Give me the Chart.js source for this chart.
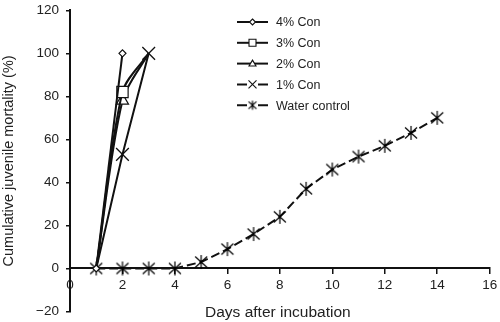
<!DOCTYPE html>
<html>
<head>
<meta charset="utf-8">
<script src="https://cdn.jsdelivr.net/npm/chart.js@4.4.1/dist/chart.umd.min.js"></script>
<style>
  html, body { margin: 0; padding: 0; background: #fff; }
  #wrap { width: 500px; height: 322px; }
</style>
</head>
<body>
<div id="wrap"><canvas id="chart"></canvas></div>
<script>
// data
const conDays = [1, 2, 3];
const con4 = [0, 100];
const con3 = [0, 82, 100];
const con2 = [0, 78, 100];
const con1 = [0, 53, 100];
const waterDays = [1, 2, 3, 4, 5, 6, 7, 8, 9, 10, 11, 12, 13, 14];
const water = [0, 0, 0, 0, 3, 9, 16, 24, 37, 46, 52, 57, 63, 70];
const seriesLabels = ['4% Con', '3% Con', '2% Con', '1% Con', 'Water control'];
const xMin = 0, xMax = 16, xStep = 2;
const yMin = -20, yMax = 120, yStep = 20;
const xTitle = 'Days after incubation';
const yTitle = 'Cumulative juvenile mortality (%)';

const ink = '#111';
const font = 'Arial, "Liberation Sans", sans-serif';

function pts(xs, ys) {
  return ys.map((y, i) => ({ x: xs[i], y: y }));
}

// asterisk marker for the water control series
function asterisk(size, s) {
  const c = document.createElement('canvas');
  c.width = size; c.height = size;
  const g = c.getContext('2d');
  const m = size / 2;
  g.strokeStyle = '#000';
  g.lineWidth = 1.2;
  g.beginPath();
  g.moveTo(m - 6 * s, m - 5.5 * s); g.lineTo(m + 6 * s, m + 5.5 * s);
  g.moveTo(m + 6 * s, m - 5.5 * s); g.lineTo(m - 6 * s, m + 5.5 * s);
  g.moveTo(m, m - 7 * s); g.lineTo(m, m + 7 * s);
  g.stroke();
  return c;
}
const starImg = asterisk(18, 1);
const starSmall = asterisk(12, 0.65);

function drawMarker(ctx, style, r, x, y) {
  if (style instanceof HTMLCanvasElement) {
    ctx.drawImage(style === starImg ? starSmall : style, x - 6, y - 6);
    return;
  }
  ctx.save();
  ctx.strokeStyle = ink;
  ctx.fillStyle = '#fff';
  ctx.lineWidth = 1.1;
  ctx.beginPath();
  if (style === 'rectRot') {
    ctx.moveTo(x, y - r); ctx.lineTo(x + r, y); ctx.lineTo(x, y + r); ctx.lineTo(x - r, y); ctx.closePath();
    ctx.fill(); ctx.stroke();
  } else if (style === 'rect') {
    ctx.rect(x - r, y - r, 2 * r, 2 * r);
    ctx.fill(); ctx.stroke();
  } else if (style === 'triangle') {
    ctx.moveTo(x, y - r); ctx.lineTo(x + r, y + r * 0.7); ctx.lineTo(x - r, y + r * 0.7); ctx.closePath();
    ctx.fill(); ctx.stroke();
  } else if (style === 'crossRot') {
    ctx.moveTo(x - r, y - r); ctx.lineTo(x + r, y + r);
    ctx.moveTo(x + r, y - r); ctx.lineTo(x - r, y + r);
    ctx.stroke();
  }
  ctx.restore();
}

// legend drawn inside the plot, top right
const legendSizes = [3, 3.5, 3.5, 4, 0];
const legendPlugin = {
  id: 'insideLegend',
  afterDraw(chart) {
    const ctx = chart.ctx;
    ctx.save();
    chart.data.datasets.forEach((ds, i) => {
      const y = 22 + i * 20.8;
      const open = ds.pointStyle === 'crossRot' || ds.pointStyle instanceof HTMLCanvasElement;
      ctx.strokeStyle = ink;
      ctx.lineWidth = ds.borderWidth;
      ctx.beginPath();
      if (open) {
        ctx.moveTo(237, y); ctx.lineTo(247, y);
        ctx.moveTo(258, y); ctx.lineTo(268, y);
      } else {
        ctx.moveTo(237, y); ctx.lineTo(268, y);
      }
      ctx.stroke();
      drawMarker(ctx, ds.pointStyle, legendSizes[i], 252.5, y);
      ctx.fillStyle = '#222';
      ctx.font = '12.5px ' + font;
      ctx.textAlign = 'left';
      ctx.textBaseline = 'middle';
      ctx.fillText(ds.label, 276, y + 1);
    });
    // x axis title sits at the bottom of the picture
    ctx.fillStyle = '#222';
    ctx.font = '15.5px ' + font;
    ctx.textAlign = 'center';
    ctx.textBaseline = 'middle';
    const a = chart.chartArea;
    ctx.fillText(xTitle, (a.left + a.right) / 2 - 2, 313);
    ctx.restore();
  }
};

const datasets = [
  {
    label: seriesLabels[0], data: pts(conDays, con4),
    pointStyle: 'rectRot', pointRadius: 3.5, pointBorderWidth: 1.2
  },
  {
    label: seriesLabels[1], data: pts(conDays, con3), tension: 0.3,
    pointStyle: 'rect', pointRadius: [0, 8, 0], pointBorderWidth: 1.2
  },
  {
    label: seriesLabels[2], data: pts(conDays, con2), tension: 0.3,
    pointStyle: 'triangle', pointRadius: [0, 7, 0], pointBorderWidth: 1.2
  },
  {
    label: seriesLabels[3], data: pts(conDays, con1),
    pointStyle: 'crossRot', pointRadius: [0, 9, 9], pointBorderWidth: 1.3
  },
  {
    label: seriesLabels[4], data: pts(waterDays, water),
    pointStyle: starImg, pointRadius: 7, borderDash: [9, 4]
  }
].map(ds => Object.assign({
  borderColor: ink,
  backgroundColor: '#fff',
  pointBackgroundColor: '#fff',
  pointBorderColor: ink,
  borderWidth: 2,
  showLine: true,
  tension: 0,
  fill: false
}, ds));

new Chart(document.getElementById('chart'), {
  type: 'scatter',
  data: { datasets: datasets },
  options: {
    responsive: true,
    maintainAspectRatio: false,
    animation: false,
    layout: { padding: { top: 5.5, right: 9.5, bottom: 10.5, left: 0 } },
    plugins: {
      legend: { display: false },
      tooltip: { enabled: false }
    },
    scales: {
      x: {
        type: 'linear',
        position: { y: 0 },
        min: xMin, max: xMax,
        afterBuildTicks: s => { s.ticks = []; for (let v = xMin; v <= xMax; v += xStep) s.ticks.push({ value: v }); },
        afterFit: s => { s.paddingLeft = 0; s.paddingRight = 0; },
        ticks: { color: '#222', font: { family: font, size: 13.5 }, padding: 4, maxRotation: 0 },
        grid: { drawOnChartArea: false, drawTicks: true, tickLength: 5, color: ink, lineWidth: 1.5 },
        border: { color: ink, width: 2 }
      },
      y: {
        min: yMin, max: yMax,
        afterBuildTicks: s => { s.ticks = []; for (let v = yMin; v <= yMax; v += yStep) s.ticks.push({ value: v }); },
        afterFit: s => { s.width = 70; s.paddingTop = 0; s.paddingBottom = 0; },
        ticks: {
          color: '#222', font: { family: font, size: 13.5 }, padding: 7,
          callback: v => String(v).replace('-', '\u2212')
        },
        grid: { drawOnChartArea: false, drawTicks: true, tickLength: 4, color: ink, lineWidth: 1.5 },
        border: { color: ink, width: 2 },
        title: { display: true, text: yTitle, color: '#222', font: { family: font, size: 14.5 }, padding: 0 }
      }
    }
  },
  plugins: [legendPlugin]
});
</script>
</body>
</html>
